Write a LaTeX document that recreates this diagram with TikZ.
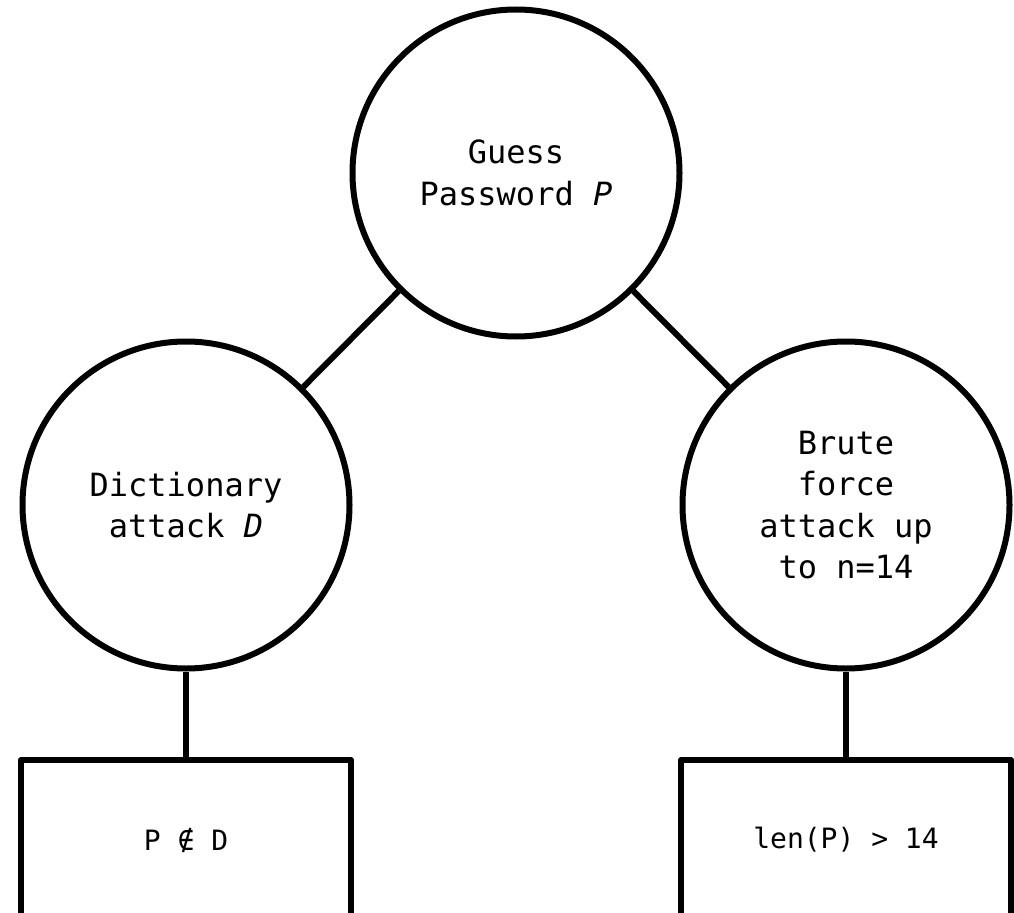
\documentclass[tikz,border=0pt]{standalone}
\usepackage{fontspec}
\setmonofont{DejaVu Sans Mono}
\begin{document}
\begin{tikzpicture}[x=0.75pt,y=-0.75pt,
  stroke/.style={line width=4.5pt, line join=round},
  goal/.style={circle, draw, stroke, minimum size=245.25pt, inner sep=0pt,
    align=center, font=\ttfamily\fontsize{24pt}{31.1pt}\selectfont},
  leaf/.style={rectangle, draw, stroke, minimum width=247.5pt, minimum height=120pt,
    inner sep=0pt, font=\ttfamily\fontsize{21pt}{25pt}\selectfont},
  edge/.style={stroke}]
\useasboundingbox (0,0) rectangle (1014,913);

% attack goals
\node[goal] (root)  at (516,173) {Guess\\Password \textit{P}};
\node[goal] (dict)  at (186,505) {Dictionary\\attack \textit{D}};
\node[goal] (brute) at (846,505) {Brute\\force\\attack up\\to n=14};

% conditions under which each attack fails
\node[leaf] (dictleaf)  at (186,840) {P ∉ D};
\node[leaf] (bruteleaf) at (846,840) {len(P) > 14};

% tree edges
\draw[edge] (root) -- (dict);
\draw[edge] (root) -- (brute);
\draw[edge] (dict.south) -- (dictleaf.north);
\draw[edge] (brute.south) -- (bruteleaf.north);
\end{tikzpicture}
\end{document}
